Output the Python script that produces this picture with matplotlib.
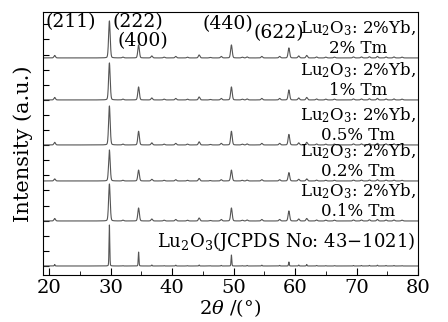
import numpy as np
import matplotlib
matplotlib.use("Agg")
import matplotlib.pyplot as plt

plt.rcParams['font.family'] = 'DejaVu Serif'
plt.rcParams['mathtext.fontset'] = 'dejavuserif'
plt.rcParams['font.size'] = 12

# peak positions (2theta) and heights
peak_pos = [20.9, 29.8, 32.0, 34.55, 36.7, 38.7, 40.6, 42.5, 44.4, 46.2, 48.0,
            49.65, 51.4, 52.2, 54.6, 57.5, 59.0, 60.6, 61.9, 63.5, 65.0, 66.4,
            69.5, 70.8, 72.1, 73.4, 74.8, 76.1, 77.4]
base_h = [2.5, 37, 0.8, 13, 2, 0.8, 1.5, 0.8, 3, 0.5, 1.5,
          13, 0.8, 1, 1.5, 1.5, 10, 2, 2.5, 1, 0.8, 0.8,
          1, 1, 1.2, 1.5, 1, 1, 0.8]
jcpds_h = [1.5, 41, 0.3, 14, 1, 0.3, 0.8, 0.3, 1, 0.2, 0.6,
           11, 0.3, 0.6, 0.8, 0.6, 4, 1, 1.5, 0.5, 0.3, 0.3,
           0.5, 0.5, 0.6, 0.8, 0.5, 0.5, 0.3]

# per-trace height of the main (222) peak and baseline offsets
main_222 = [37, 37, 39, 31, 37]
offsets = [217, 175, 130, 94, 54]
tm_labels = ['2% Tm', '1% Tm', '0.5% Tm', '0.2% Tm', '0.1% Tm']
jcpds_offset = 9

hkl = ['(211)', '(222)', '(400)', '(440)', '(622)']
hkl_x = [23.5, 34.4, 35.2, 49.0, 57.4]
hkl_y = [253, 253, 234, 251, 242]

x = np.linspace(19, 80, 4000)


def pattern(heights, width):
    y = np.zeros_like(x)
    for p, h in zip(peak_pos, heights):
        d = (x - p) / width
        y += h * (0.8 * np.exp(-0.5 * d ** 2) + 0.2 / (1 + d ** 2))
    return y


fig = plt.figure(figsize=(4.48, 3.22), dpi=100)
ax = fig.add_axes([0.096, 0.146, 0.837, 0.817])

for i in range(5):
    h = np.array(base_h) * main_222[i] / 37.0
    ax.plot(x, offsets[i] + pattern(h, 0.13), color='#555555', lw=0.8)
    ax.text(70.3, offsets[i] + 1, 'Lu$_2$O$_3$: 2%Yb,\n' + tm_labels[i],
            ha='center', va='bottom', linespacing=1.12, fontsize=12)

ax.plot(x, jcpds_offset + pattern(jcpds_h, 0.06), color='#555555', lw=0.8)
ax.text(58.5, jcpds_offset + 13, 'Lu$_2$O$_3$(JCPDS No: 43\u22121021)',
        ha='center', va='bottom', fontsize=13)

for lab, lx, ly in zip(hkl, hkl_x, hkl_y):
    ax.text(lx, ly, lab, ha='center', va='center', fontsize=13.5)

ax.set_xlim(19, 80)
ax.set_ylim(0, 263)
ax.set_xticks([20, 30, 40, 50, 60, 70, 80])
ax.set_xticks([25, 35, 45, 55, 65, 75], minor=True)
ax.set_yticks(np.arange(9, 255, 15.1))
ax.set_yticklabels([])
ax.tick_params(axis='x', direction='in', length=5, labelsize=14, pad=3)
ax.tick_params(axis='x', which='minor', direction='in', length=3)
ax.tick_params(axis='y', direction='in', length=4)
ax.set_xlabel(r'$2\theta$ /(°)', fontsize=14, labelpad=0)
ax.set_ylabel('Intensity (a.u.)', fontsize=15, labelpad=4)

fig.savefig('out.png', dpi=100)
